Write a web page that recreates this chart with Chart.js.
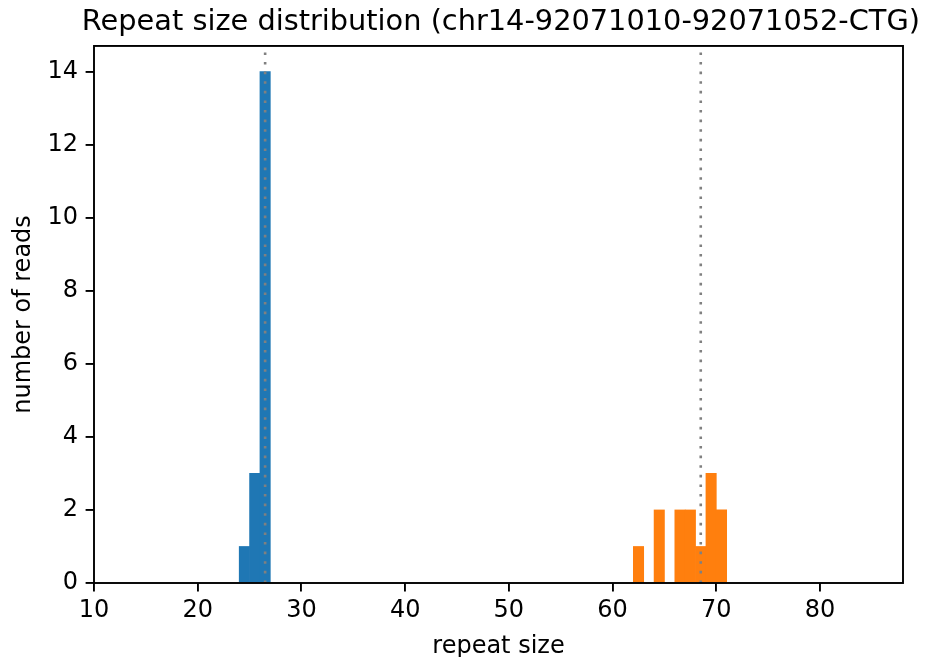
<!DOCTYPE html>
<html>
<head>
<meta charset="utf-8">
<script src="https://cdn.jsdelivr.net/npm/chart.js@4"></script>
<style>
  html, body { margin: 0; padding: 0; background: #fff; }
  #wrap { width: 925px; height: 657px; }
</style>
</head>
<body>
<div id="wrap"><canvas id="c" width="925" height="657"></canvas></div>
<script>
// ---- data ----
const chartTitle = 'Repeat size distribution (chr14-92071010-92071052-CTG)';
const xLabel = 'repeat size';
const yLabel = 'number of reads';

// allele 1 (blue) histogram: bin left edges and counts (bin width 1)
const allele1Bins = [24, 25, 26];
const allele1Counts = [1, 3, 14];
// allele 2 (orange) histogram
const allele2Bins = [62, 64, 66, 67, 68, 69, 70];
const allele2Counts = [1, 2, 2, 2, 1, 3, 2];
// dotted reference lines (allele sizes)
const alleleLines = [26.5, 68.5];

const xTicks = [10, 20, 30, 40, 50, 60, 70, 80];
const yTicks = [0, 2, 4, 6, 8, 10, 12, 14];
const xRange = [10, 88];
const yRange = [0, 14.7];

// ---- build datasets ----
const binWidth = 1;
const toBars = (bins, counts) => bins.map((b, i) => ({ x: b + binWidth / 2, y: counts[i] }));

const lineDatasets = alleleLines.map(v => ({
  type: 'line',
  data: [{ x: v, y: yRange[0] }, { x: v, y: yRange[1] }],
  borderColor: '#808080',
  borderWidth: 2.6,
  borderDash: [2.6, 7],
  borderCapStyle: 'butt',
  pointRadius: 0,
  fill: false,
  order: 0
}));

const frame = {
  id: 'frame',
  afterDatasetsDraw(chart) {
    const a = chart.chartArea, ctx = chart.ctx;
    ctx.save();
    ctx.strokeStyle = '#000';
    ctx.lineWidth = 1.9;
    ctx.strokeRect(a.left, a.top, a.right - a.left, a.bottom - a.top);
    ctx.restore();
  }
};

const font = { family: 'DejaVu Sans', size: 24 };

new Chart(document.getElementById('c'), {
  type: 'bar',
  data: {
    datasets: [
      ...lineDatasets,
      {
        type: 'bar',
        data: toBars(allele1Bins, allele1Counts),
        backgroundColor: '#1f77b4',
        borderWidth: 0,
        barPercentage: 1,
        categoryPercentage: 1,
        grouped: false,
        order: 1
      },
      {
        type: 'bar',
        data: toBars(allele2Bins, allele2Counts),
        backgroundColor: '#ff7f0e',
        borderWidth: 0,
        barPercentage: 1,
        categoryPercentage: 1,
        grouped: false,
        order: 1
      }
    ]
  },
  options: {
    responsive: false,
    animation: false,
    devicePixelRatio: 1,
    layout: { padding: { left: 0, right: 5, top: 0, bottom: 0 } },
    plugins: {
      legend: { display: false },
      tooltip: { enabled: false },
      title: {
        display: true,
        align: 'end',
        text: chartTitle,
        color: '#000',
        font: { family: 'DejaVu Sans', size: 28.8, weight: 'normal', lineHeight: 1.2 },
        padding: { top: 4.8, bottom: 6.6 }
      }
    },
    scales: {
      x: {
        type: 'linear',
        position: 'bottom',
        min: xRange[0],
        max: xRange[1],
        offset: false,
        grid: { offset: false, drawOnChartArea: false, drawTicks: true, tickLength: 8.4, color: '#000', lineWidth: 1.9 },
        border: { display: false },
        ticks: { color: '#000', font: font, padding: 5, maxRotation: 0, autoSkip: false },
        title: { display: true, text: xLabel, color: '#000', font: { family: 'DejaVu Sans', size: 24, lineHeight: 0.85 }, padding: 0 },
        afterBuildTicks: s => { s.ticks = xTicks.map(v => ({ value: v })); },
        afterFit: s => { s.height = 74; }
      },
      y: {
        type: 'linear',
        position: 'left',
        min: yRange[0],
        max: yRange[1],
        grid: { drawOnChartArea: false, drawTicks: true, tickLength: 8.4, color: '#000', lineWidth: 1.9 },
        border: { display: false },
        ticks: { color: '#000', font: font, padding: 7.5, autoSkip: false },
        title: { display: true, text: yLabel, color: '#000', font: { family: 'DejaVu Sans', size: 24, lineHeight: 1.2 }, padding: { top: 9, bottom: 0 } },
        afterBuildTicks: s => { s.ticks = yTicks.map(v => ({ value: v })); },
        afterFit: s => { s.width = 94; }
      },
      yRight: {
        type: 'linear',
        position: 'right',
        min: yRange[0],
        max: yRange[1],
        grid: { display: false },
        border: { display: false },
        ticks: { display: false },
        afterFit: s => { s.width = 17; }
      }
    }
  },
  plugins: [frame]
});
</script>
</body>
</html>
